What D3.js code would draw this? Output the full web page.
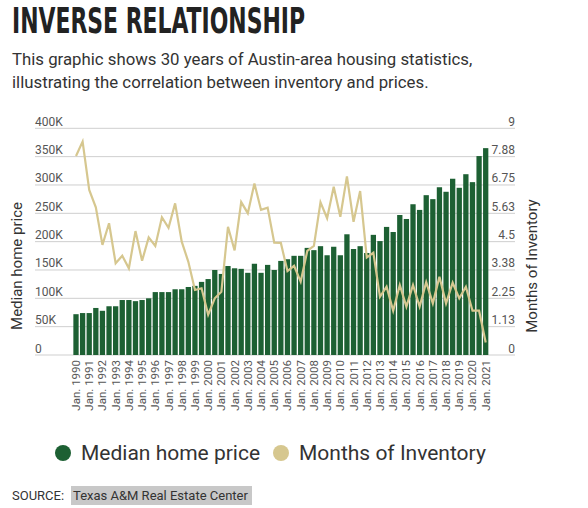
<!DOCTYPE html>
<html>
<head>
<meta charset="utf-8">
<script src="https://cdn.jsdelivr.net/npm/d3@7"></script>
<style>
  body { margin: 0; background: #fff; }
  svg text { font-family: Roboto, "Noto Sans", sans-serif; }
</style>
</head>
<body>
<div id="chart"></div>
<script>
// Austin-area housing, semi-annual (Jan / Jul), Jan 1990 .. Jan 2021
const years = d3.range(1990, 2022);
const periods = [];
years.forEach(y => {
    periods.push("Jan. " + y);
    if (y < 2021) periods.push("Jul. " + y);
});

// median home price, in thousands of dollars
const medianPrice = [
    72, 74, 74, 83, 78, 86, 86, 97, 97, 95,
    97, 100, 111, 111, 111, 116, 116, 120, 122, 129,
    134, 150, 143, 157, 153, 152, 145, 161, 145, 159,
    150, 166, 169, 175, 175, 189, 185, 192, 176, 191,
    176, 213, 187, 192, 180, 212, 201, 226, 217, 247,
    240, 266, 256, 282, 275, 296, 288, 311, 295, 319,
    305, 351, 365
];

// months of inventory
const monthsInventory = [
    7.90, 8.47, 6.55, 5.86, 4.37, 5.23, 3.64, 3.94, 3.44, 4.92,
    3.74, 4.67, 4.33, 5.47, 5.05, 6.02, 4.50, 3.70, 2.58, 2.65,
    1.60, 2.25, 2.51, 5.09, 4.15, 6.07, 5.63, 6.81, 5.76, 5.85,
    4.46, 4.45, 3.33, 3.54, 2.91, 4.13, 4.33, 6.06, 5.43, 6.68,
    5.49, 7.09, 5.29, 6.51, 3.87, 4.06, 2.31, 2.71, 1.76, 2.78,
    1.92, 2.78, 1.92, 2.89, 2.05, 3.11, 2.05, 2.87, 2.25, 2.71,
    1.76, 1.76, 0.50
];

const priceTicks = [0, 50, 100, 150, 200, 250, 300, 350, 400];
const monthTicks = ["0", "1.13", "2.25", "3.38", "4.5", "5.63", "6.75", "7.88", "9"];

const green = "#1d6033";
const gold = "#d6c78f";

const width = 588, height = 508;
const svg = d3.select("#chart").append("svg")
    .attr("width", width)
    .attr("height", height);

// title + subtitle
svg.append("text")
    .attr("x", 12).attr("y", 33)
    .attr("textLength", 293)
    .attr("lengthAdjust", "spacingAndGlyphs")
    .style("font-family", '"Liberation Sans Narrow", "DejaVu Sans Condensed", sans-serif')
    .style("font-weight", "bold")
    .style("font-size", "36px")
    .attr("fill", "#222")
    .text("INVERSE RELATIONSHIP");

const subtitle = [
    "This graphic shows 30 years of Austin-area housing statistics,",
    "illustrating the correlation between inventory and prices."
];
svg.selectAll(".subtitle")
    .data(subtitle)
    .join("text")
    .attr("class", "subtitle")
    .attr("x", 12)
    .attr("y", (d, i) => 65 + i * 22.5)
    .style("font-size", "16.8px")
    .attr("fill", "#333")
    .text(d => d);

// scales
const x = d3.scaleBand()
    .domain(periods)
    .range([72.7, 489])
    .paddingInner(0.2)
    .paddingOuter(0.1);

const yLeft = d3.scaleLinear().domain([0, 400]).range([355, 128.3]);
const yRight = d3.scaleLinear().domain([0, 9]).range([355, 128.3]);

const gridLeft = 35, gridRight = 515;

// gridlines
svg.append("g")
    .selectAll("line")
    .data(priceTicks)
    .join("line")
    .attr("x1", gridLeft).attr("x2", gridRight)
    .attr("y1", d => yLeft(d)).attr("y2", d => yLeft(d))
    .attr("stroke", "#cfcfcf")
    .attr("stroke-width", 1);

// left tick labels
svg.append("g")
    .selectAll("text")
    .data(priceTicks)
    .join("text")
    .attr("x", gridLeft)
    .attr("y", d => yLeft(d) - 2.5)
    .style("font-size", "12px")
    .attr("fill", "#555")
    .text(d => d === 0 ? "0" : d + "K");

// right tick labels
svg.append("g")
    .selectAll("text")
    .data(monthTicks)
    .join("text")
    .attr("x", gridRight)
    .attr("y", (d, i) => yLeft(priceTicks[i]) - 2.5)
    .attr("text-anchor", "end")
    .style("font-size", "12px")
    .attr("fill", "#555")
    .text(d => d);

// bars
svg.append("g")
    .selectAll("rect")
    .data(medianPrice)
    .join("rect")
    .attr("x", (d, i) => x(periods[i]))
    .attr("y", d => yLeft(d))
    .attr("width", x.bandwidth())
    .attr("height", d => yLeft(0) - yLeft(d))
    .attr("fill", green);

// months of inventory line
const line = d3.line()
    .x((d, i) => x(periods[i]) + x.bandwidth() / 2)
    .y(d => yRight(d));

svg.append("path")
    .datum(monthsInventory)
    .attr("d", line)
    .attr("fill", "none")
    .attr("stroke", gold)
    .attr("stroke-width", 2.2)
    .attr("stroke-linejoin", "miter");

// x labels, January of every year
svg.append("g")
    .selectAll("text")
    .data(periods.filter(p => p.startsWith("Jan")))
    .join("text")
    .attr("transform", d => "translate(" + (x(d) + x.bandwidth() / 2 + 4) + ",360) rotate(-90)")
    .attr("text-anchor", "end")
    .style("font-size", "11.5px")
    .attr("fill", "#555")
    .text(d => d);

// axis titles
svg.append("text")
    .attr("transform", "translate(22,266) rotate(-90)")
    .attr("text-anchor", "middle")
    .style("font-size", "15px")
    .attr("fill", "#333")
    .text("Median home price");

svg.append("text")
    .attr("transform", "translate(537,266) rotate(-90)")
    .attr("text-anchor", "middle")
    .style("font-size", "15px")
    .attr("fill", "#333")
    .text("Months of Inventory");

// legend
const legend = [
    {label: "Median home price", color: green, x: 63},
    {label: "Months of Inventory", color: gold, x: 281}
];
const lg = svg.append("g").selectAll("g")
    .data(legend)
    .join("g")
    .attr("transform", d => "translate(" + d.x + ",453)");
lg.append("circle")
    .attr("r", 8)
    .attr("fill", d => d.color);
lg.append("text")
    .attr("x", 18)
    .attr("y", 7)
    .style("font-size", "21px")
    .attr("fill", "#333")
    .text(d => d.label);

// source
svg.append("rect")
    .attr("x", 71).attr("y", 486)
    .attr("width", 181).attr("height", 19)
    .attr("fill", "#c8c8c8");
svg.append("text")
    .attr("x", 12).attr("y", 500)
    .style("font-size", "13px")
    .attr("fill", "#333")
    .text("SOURCE: ")
    .append("tspan")
    .attr("x", 73)
    .text("Texas A&M Real Estate Center");
</script>
</body>
</html>
